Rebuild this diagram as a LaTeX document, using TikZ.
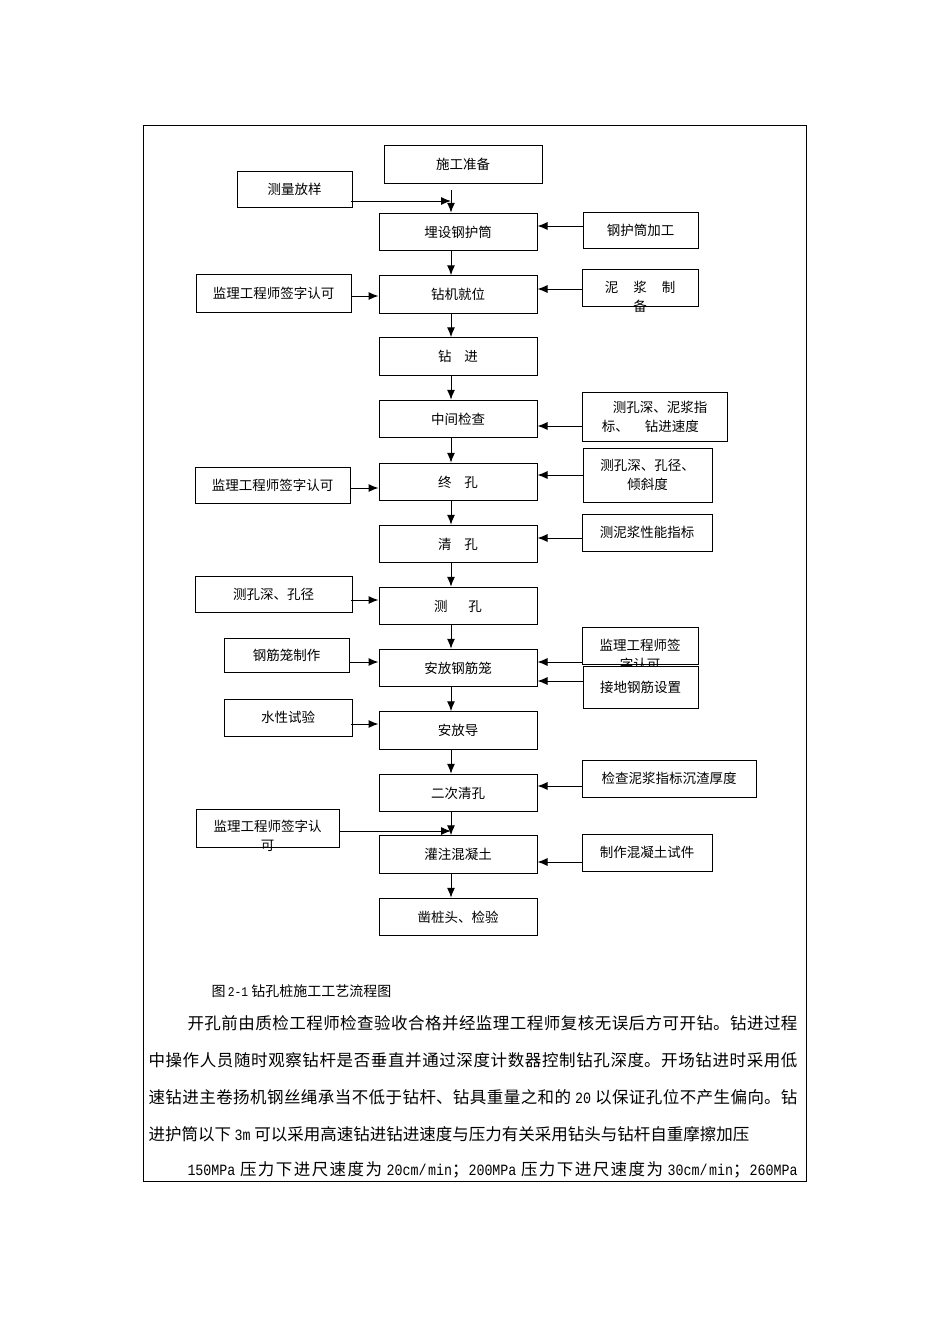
\documentclass[tikz,border=0pt]{standalone}
\usepackage{fontspec}
\setmainfont{Noto Sans CJK SC}
\newfontfamily\hw[Scale=0.95,FakeStretch=0.85]{Liberation Mono}
\XeTeXlinebreaklocale "zh"
\XeTeXlinebreakskip=0pt plus 3pt
\usetikzlibrary{calc,arrows.meta}
\tikzset{
  stepbox/.style={draw,line width=1pt,fill=white,inner sep=0pt,font=\fontsize{13.5}{19}\selectfont},
  mainbox/.style={stepbox,minimum width=158pt,minimum height=37.5pt},
  boxtext/.style={inner sep=0pt,align=center,font=\fontsize{13.5}{19}\selectfont},
  bodyline/.style={anchor=west,inner sep=0pt,font=\fontsize{16.5}{20}\selectfont},
}
\begin{document}
\begin{tikzpicture}[>={Latex[length=10pt,width=8pt]},x=1pt,y=-1pt,line width=1pt]
    \useasboundingbox (0,0) rectangle (950,1344);
    \draw[line width=0.7pt] (143,125) rectangle (806,1181);
    % main column
    \node[mainbox] (sgzb) at (463,164.5) {施工准备};
    \node[mainbox] (mshht) at (458,232) {埋设钢护筒};
    \node[mainbox] (zjjw) at (458,294.5) {钻机就位};
    \node[mainbox] (zj) at (458,356.5) {钻\hspace{13pt}进};
    \node[mainbox] (zjjc) at (458,419) {中间检查};
    \node[mainbox] (zk) at (458,482) {终\hspace{13pt}孔};
    \node[mainbox] (qk) at (458,544) {清\hspace{13pt}孔};
    \node[mainbox] (ck) at (458,606) {测\hspace{21pt}孔};
    \node[mainbox] (affjl) at (458,668) {安放钢筋笼};
    \node[mainbox] (afd) at (458,730.5) {安放导};
    \node[mainbox] (ecqk) at (458,793) {二次清孔};
    \node[mainbox] (gzhnt) at (458,854.5) {灌注混凝土};
    \node[mainbox] (zztjy) at (458,917) {凿桩头、检验};
    \coordinate (spine) at (451,0);
    % left side
    \node[stepbox,minimum width=115pt,minimum height=36pt] (clfy) at (294.5,189) {测量放样};
    \node[stepbox,minimum width=155pt,minimum height=38pt] (jl1) at (273.5,293) {监理工程师签字认可};
    \node[stepbox,minimum width=155pt,minimum height=36pt] (jl2) at (272.5,485) {监理工程师签字认可};
    \node[stepbox,minimum width=157pt,minimum height=36pt] (cksj) at (273.5,594) {测孔深、孔径};
    \node[stepbox,minimum width=125pt,minimum height=34pt] (gjlzz) at (286.5,655) {钢筋笼制作};
    \node[stepbox,minimum width=128pt,minimum height=37pt] (sxsy) at (288,717.5) {水性试验};
    \node[stepbox,minimum width=143pt,minimum height=38pt] (jl3) at (267.5,828) {};
    \node[boxtext,anchor=north] (jl3t) at (267.5,820) {监理工程师签字认\\可};
    % right side
    \node[stepbox,minimum width=115pt,minimum height=36pt] (ghtjg) at (640.5,230) {钢护筒加工};
    \node[stepbox,minimum width=116pt,minimum height=37pt] (njzb) at (640,287.5) {};
    \node[boxtext,anchor=north] (njzbt) at (640,281) {泥\hspace{15pt}浆\hspace{15pt}制\\备};
    \node[stepbox,minimum width=145pt,minimum height=49pt,align=left] (cksnj) at (654.5,416.5) {\hspace*{11pt}测孔深、泥浆指\\标、\hspace{16pt}钻进速度};
    \node[stepbox,minimum width=129pt,minimum height=54pt,align=center] (cksqx) at (647.5,475) {测孔深、孔径、\\倾斜度};
    \node[stepbox,minimum width=130pt,minimum height=37pt] (cnjxn) at (647,532.5) {测泥浆性能指标};
    \node[stepbox,minimum width=116pt,minimum height=37pt] (jl4) at (640,645.5) {};
    \node[boxtext,anchor=north] (jl4t) at (640,639) {监理工程师签\\字认可};
    \node[stepbox,minimum width=115pt,minimum height=42pt] (jdgj) at (640.5,687) {接地钢筋设置};
    \node[stepbox,minimum width=174pt,minimum height=37pt] (jcnj) at (669,778.5) {检查泥浆指标沉渣厚度};
    \node[stepbox,minimum width=130pt,minimum height=37pt] (zzhnt) at (647,852.5) {制作混凝土试件};
    % arrows
    \draw[->] ($(sgzb.south -| spine)+(0,6)$) -- (mshht.north -| spine);
    \foreach \a/\b in {mshht/zjjw,zjjw/zj,zj/zjjc,zjjc/zk,zk/qk,qk/ck,ck/affjl,affjl/afd,afd/ecqk,ecqk/gzhnt,gzhnt/zztjy}
        \draw[->] (\a.south -| spine) -- (\b.north -| spine);
    \foreach \s/\t/\dx/\dy in {clfy/spine/-2/12,jl1/zjjw.west/0/3,jl2/zk.west/0/3,cksj/ck.west/-2/6,gjlzz/affjl.west/0/7,sxsy/afd.west/-2/6.5,jl3/spine/0/3}{
        \coordinate (p) at ($(\s.east)+(\dx,\dy)$);
        \draw[->] (p) -- (p -| \t);
    }
    \foreach \s/\t/\dy in {ghtjg/mshht/-4,njzb/zjjw/1.5,cksnj/zjjc/9.5,cksqx/zk/0,cnjxn/qk/5.5,jl4/affjl/16.5,jdgj/affjl/-6,jcnj/ecqk/7.5,zzhnt/gzhnt/9.5}{
        \coordinate (p) at ($(\s.west)+(0,\dy)$);
        \draw[->] (p) -- (p -| \t.east);
    }
    % caption and text
    \node[anchor=west,inner sep=0pt,font=\fontsize{14}{16}\selectfont] (cap) at (211,991) {图\,{\hw 2-1}\ 钻孔桩施工工艺流程图};
    \node[bodyline] (l1) at (187,1023) {\parbox{610pt}{\parfillskip=0pt 开孔前由质检工程师检查验收合格并经监理工程师复核无误后方可开钻。钻进过程}};
    \node[bodyline] (l2) at (148,1060) {\parbox{649pt}{\parfillskip=0pt 中操作人员随时观察钻杆是否垂直并通过深度计数器控制钻孔深度。开场钻进时采用低}};
    \node[bodyline] (l3) at (148,1097) {\parbox{649pt}{\parfillskip=0pt 速钻进主卷扬机钢丝绳承当不低于钻杆、钻具重量之和的 {\hw 20} 以保证孔位不产生偏向。钻}};
    \node[bodyline] (l4) at (148,1134) {进护筒以下 {\hw 3m} 可以采用高速钻进钻进速度与压力有关采用钻头与钻杆自重摩擦加压};
    \node[bodyline] (l5) at (187,1170) {\parbox{610pt}{\parfillskip=0pt {\hw 150MPa} 压力下进尺速度为 {\hw 20cm/min}；{\hw 200MPa} 压力下进尺速度为 {\hw 30cm/min}；{\hw 260MPa}}};
\end{tikzpicture}
\end{document}
